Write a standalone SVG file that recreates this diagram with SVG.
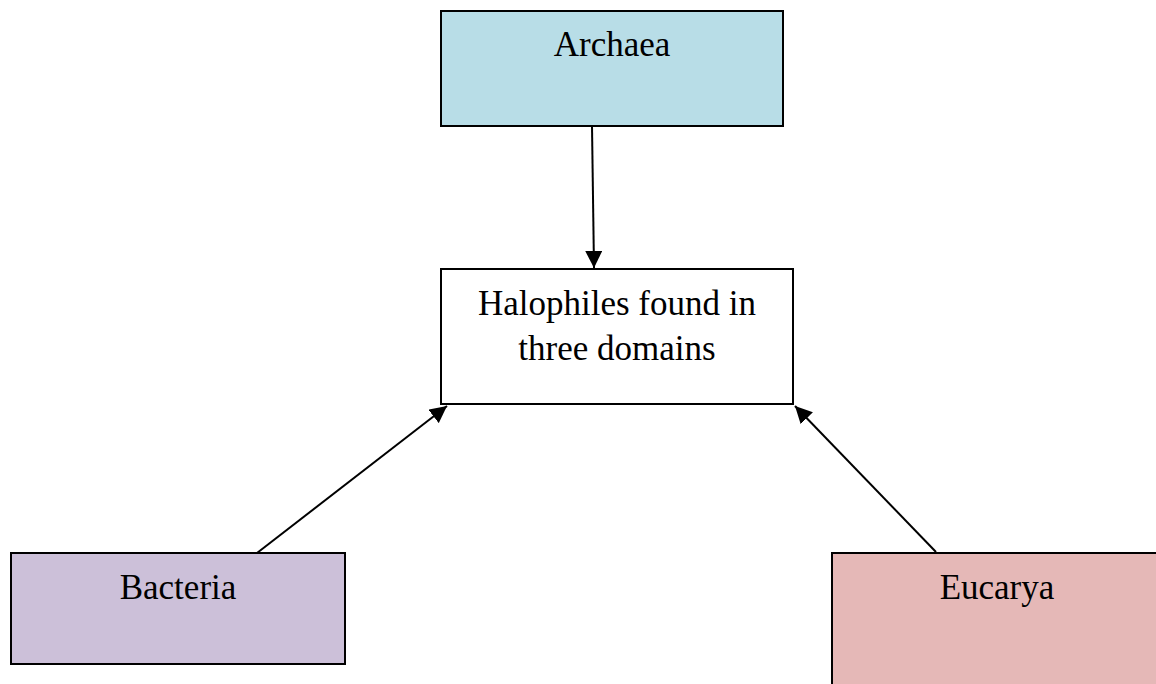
<svg xmlns="http://www.w3.org/2000/svg" width="1156" height="684" viewBox="0 0 1156 684">
  <style>
    .box { stroke: #000; stroke-width: 2; }
    .label { font-family: "Liberation Serif", "Times New Roman", serif; font-size: 35px; fill: #000; text-anchor: middle; }
    .edge { stroke: #000; stroke-width: 2; fill: none; marker-end: url(#arrow); }
  </style>
  <defs>
    <marker id="arrow" viewBox="0 0 10 10" refX="10" refY="5" markerWidth="17" markerHeight="17" markerUnits="userSpaceOnUse" orient="auto">
      <path d="M0,0 L10,5 L0,10 z" fill="#000"/>
    </marker>
  </defs>
  <rect width="1156" height="684" fill="#fff"/>

  <g id="connectors">
    <line class="edge" x1="592" y1="126" x2="594" y2="268"/>
    <line class="edge" x1="257" y1="553" x2="447" y2="406"/>
    <line class="edge" x1="936" y1="552" x2="795" y2="406"/>
  </g>

  <g id="archaea">
    <rect class="box" x="441" y="11" width="342" height="115" fill="#b8dde7"/>
    <text class="label" x="612" y="56">Archaea</text>
  </g>

  <g id="halophiles">
    <rect class="box" x="441" y="269" width="352" height="135" fill="#fff"/>
    <text class="label" x="617" y="315">Halophiles found in</text>
    <text class="label" x="617" y="360">three domains</text>
  </g>

  <g id="bacteria">
    <rect class="box" x="11" y="553" width="334" height="111" fill="#ccc0d9"/>
    <text class="label" x="178" y="599">Bacteria</text>
  </g>

  <g id="eucarya">
    <rect class="box" x="832" y="553" width="340" height="140" fill="#e5b8b7"/>
    <text class="label" x="997" y="599">Eucarya</text>
  </g>
</svg>
